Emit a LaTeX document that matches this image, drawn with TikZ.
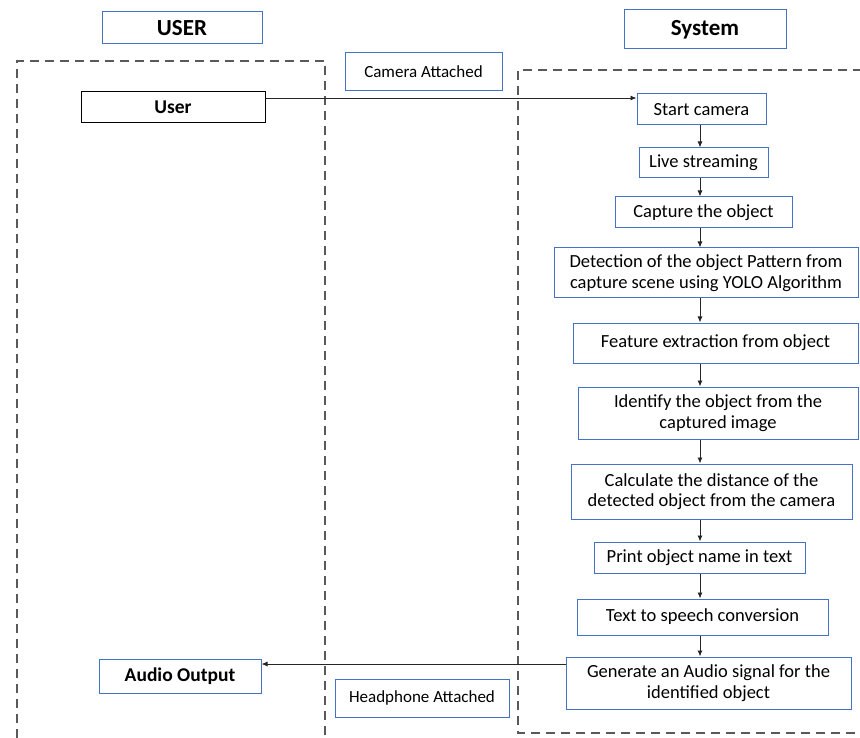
\documentclass[tikz,border=0pt]{standalone}
\usepackage{fontspec}
\setmainfont{Carlito}
\usetikzlibrary{arrows.meta}
\definecolor{boxblue}{HTML}{4472C4}
\definecolor{dashgray}{HTML}{595959}
\tikzset{
  bx/.style={draw=boxblue, line width=1pt, fill=white, inner sep=0pt, align=center, font=\fontsize{18.5}{20.5}\selectfont},
  ttl/.style={bx, font=\bfseries\fontsize{23}{26}\selectfont},
  small/.style={bx, font=\fontsize{17}{19}\selectfont},
  arr/.style={draw=black!85, line width=0.9pt, -{Latex[length=6pt,width=5pt]}},
  lane/.style={draw=dashgray, line width=2.5pt, dash pattern=on 9pt off 6pt}
}
\begin{document}
\begin{tikzpicture}[x=1pt,y=-1pt]
\useasboundingbox (0,0) rectangle (860,738);
% lanes
\draw[lane] (17,738) -- (17,61) -- (325,61) -- (325,738);
\draw[lane] (862,70) -- (518,70) -- (518,733) -- (862,733);
% titles
\node[ttl, minimum width=160pt, minimum height=32pt] (usert) at (182,28) {USER};
\node[ttl, minimum width=162pt, minimum height=39pt] (syst) at (705,29.5) {System};
\node[small, minimum width=157pt, minimum height=38pt] (cam) at (423.5,72) {Camera Attached};
\node[small, minimum width=174pt, minimum height=38pt] (head) at (422,698) {Headphone Attached};
% user side
\node[bx, draw=black, font=\bfseries\fontsize{19.5}{22}\selectfont, minimum width=184pt, minimum height=31pt] (user) at (173,107.5) {User};
\node[bx, font=\bfseries\fontsize{19.5}{22}\selectfont, minimum width=162pt, minimum height=34pt] (audio) at (180,676) {Audio Output};
% system flow
\node[bx, minimum width=129pt, minimum height=31pt] (start) at (701.5,109.5) {Start camera};
\node[bx, minimum width=129pt, minimum height=30pt] (live) at (703.5,163) {Live streaming};
\node[bx, minimum width=177pt, minimum height=31pt] (capt) at (703.5,212.5) {Capture the object};
\node[bx, minimum width=304pt, minimum height=50pt] (detect) at (706,273) {Detection of the object Pattern from\\capture scene using YOLO Algorithm};
\node[bx, minimum width=285pt, minimum height=40pt] (feat) at (715.5,343) {Feature extraction from object};
\node[bx, minimum width=280pt, minimum height=52pt] (ident) at (718,413) {Identify the object from the\\captured image};
\node[bx, minimum width=281pt, minimum height=55pt] (calc) at (711.5,491.5) {Calculate the distance of the\\detected object from the camera};
\node[bx, minimum width=211pt, minimum height=31pt] (print) at (699.5,557.5) {Print object name in text};
\node[bx, minimum width=251pt, minimum height=36pt] (tts) at (702.5,617) {Text to speech conversion};
\node[bx, minimum width=285pt, minimum height=52pt] (gen) at (708.5,683) {Generate an Audio signal for the\\identified object};
% connectors
\coordinate (ax) at (700,0);
\coordinate (ya) at (0,98);
\coordinate (yb) at (0,664);
\draw[arr] (user.east |- ya) -- (start.west |- ya);
\draw[arr] (start.south -| ax) -- (live.north -| ax);
\draw[arr] (live.south -| ax) -- (capt.north -| ax);
\draw[arr] (capt.south -| ax) -- (detect.north -| ax);
\draw[arr] (detect.south -| ax) -- (feat.north -| ax);
\draw[arr] (feat.south -| ax) -- (ident.north -| ax);
\draw[arr] (ident.south -| ax) -- (calc.north -| ax);
\draw[arr] (calc.south -| ax) -- (print.north -| ax);
\draw[arr] (print.south -| ax) -- (tts.north -| ax);
\draw[arr] (tts.south -| ax) -- (gen.north -| ax);
\draw[arr] (gen.west |- yb) -- (audio.east |- yb);
\end{tikzpicture}
\end{document}
